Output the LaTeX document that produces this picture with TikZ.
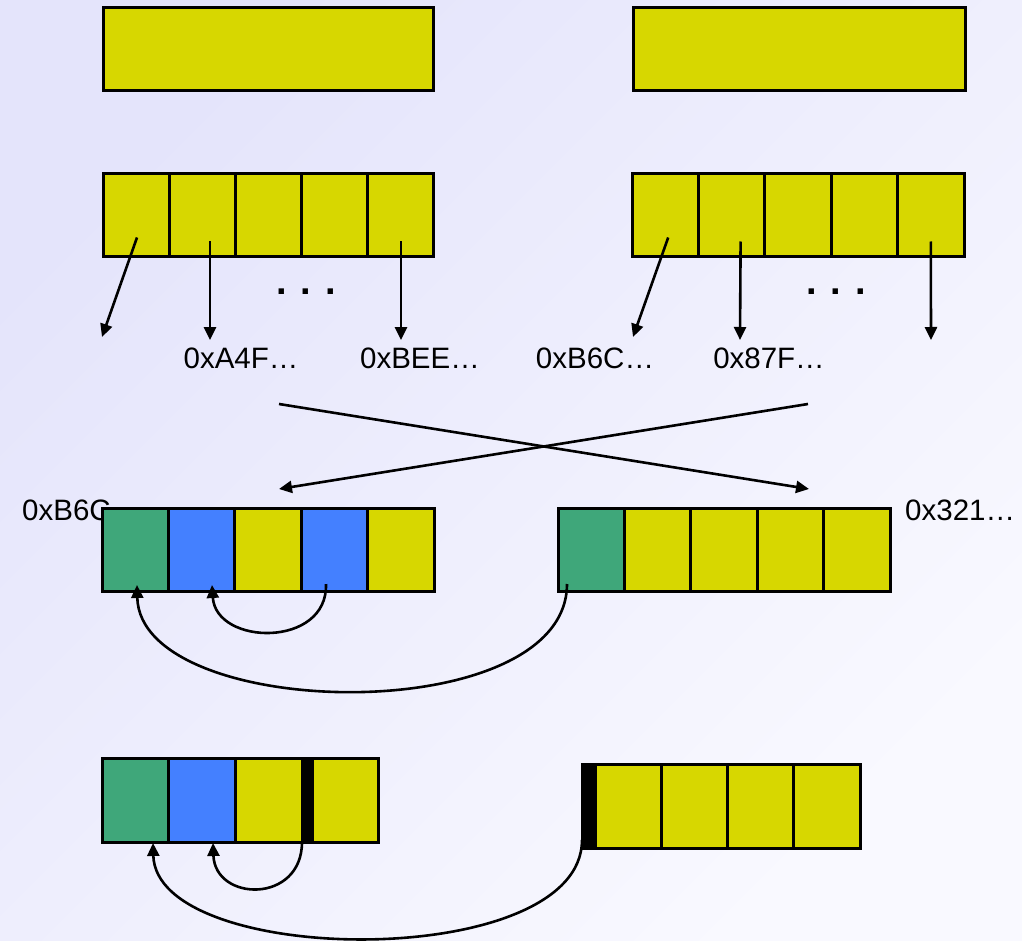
\documentclass[tikz,border=0pt]{standalone}
\usepackage{fontspec}
\setmainfont{Liberation Sans}
\usetikzlibrary{arrows.meta,calc}
\definecolor{ylw}{RGB}{215,215,0}
\definecolor{grn}{RGB}{63,167,122}
\definecolor{blu}{RGB}{68,128,255}
\definecolor{bgA}{RGB}{228,228,251}
\definecolor{bgB}{RGB}{249,249,255}
\tikzset{
  cell/.style={draw=black, line width=3pt, fill=ylw, minimum width=66pt,
    minimum height=83pt, inner sep=0pt, outer sep=0pt, anchor=north west},
  bar/.style={cell, fill=black, minimum width=10pt},
  arr/.style={line width=2.6pt, -{Triangle[length=13pt,width=12pt]}},
  lbl/.style={font=\fontsize{29.5}{33}\selectfont, inner sep=0pt},
  dots/.style={font=\fontsize{38}{42}\selectfont\bfseries, inner sep=0pt}
}
\begin{document}
\begin{tikzpicture}[x=1pt,y=-1pt]
\useasboundingbox (0,0) rectangle (1022,941);
\shade[top color=bgA, bottom color=bgB, shading angle=45]
  (0,0) rectangle (1022,941);

% top boxes
\node[cell, minimum width=330pt] (t1) at (103,8) {};
\node[cell, minimum width=332pt] (t2) at (633,8) {};

% row 2
\foreach \i/\n in {0/a,1/b,2/c,3/d,4/e}{
  \node[cell] (l2\n) at (103+66*\i,174) {};
  \node[cell, minimum width=66.4pt] (r2\n) at (632+66.4*\i,174) {};
}
\node[dots] (dl) at (306,292) {. . .};
\node[dots] (dr) at (836,292) {. . .};

\node[lbl] (a4f) at (241,358) {0xA4F…};
\node[lbl] (bee) at (420,358) {0xBEE…};
\node[lbl] (b6c) at (595,358) {0xB6C…};
\node[lbl] (f87) at (769,358) {0x87F…};

\coordinate (e1) at (102,337);
\coordinate (e2) at (210,340);
\coordinate (e3) at (401,340);
\coordinate (e4) at (633,337);
\coordinate (e5) at (740,340);
\coordinate (e6) at (931,340);
\draw[arr] ($(l2a.center)+(1,22)$) -- (e1);
\draw[arr] ($(l2b.center)+(8,26)$) -- (e2);
\draw[arr] ($(l2e.center)+(1,26)$) -- (e3);
\draw[arr] ($(r2a.center)+(3,22)$) -- (e4);
\draw[arr] ($(r2b.center)+(9,26)$) -- (e5);
\draw[arr] ($(r2e.center)+(0,26)$) -- (e6);

% crossing
\coordinate (x1) at (279,404);
\coordinate (x2) at (809,489);
\coordinate (x3) at (808,404);
\coordinate (x4) at (279,489);
\draw[arr] (x1) -- (x2);
\draw[arr] (x3) -- (x4);

% row 3
\node[lbl, anchor=west] (lb6c) at (22,510) {0xB6C};
\node[lbl, anchor=west] (l321) at (905,510) {0x321…};
\foreach \i/\n/\c in {0/a/grn,1/b/blu,2/c/ylw,3/d/blu,4/e/ylw}{
  \node[cell, fill=\c, minimum width=66.4pt] (l3\n) at (102+66.4*\i,508) {};
}
\foreach \i/\n/\c in {0/a/grn,1/b/ylw,2/c/ylw,3/d/ylw,4/e/ylw}{
  \node[cell, fill=\c, minimum width=66.4pt] (r3\n) at (558+66.4*\i,508) {};
}
\coordinate (s3a) at (326,584);
\coordinate (t3a) at (212,585);
\coordinate (s3b) at (567,584);
\coordinate (t3b) at (137,585);
\draw[arr] (s3a) .. controls (328,648) and (216,646) .. (t3a);
\draw[arr] (s3b) .. controls (567,730) and (140,722) .. (t3b);

% row 4
\node[cell, fill=grn, minimum height=84pt] (l4a) at (102,758) {};
\node[cell, fill=blu, minimum height=84pt, minimum width=67pt] (l4b) at (168,758) {};
\node[cell, fill=ylw, minimum height=84pt, minimum width=67pt] (l4c) at (235,758) {};
\node[bar, minimum height=84pt] (l4bar) at (302,758) {};
\node[cell, fill=ylw, minimum height=84pt] (l4d) at (312,758) {};

\node[bar, minimum height=84pt, minimum width=13pt] (r4bar) at (582,764) {};
\foreach \i/\n in {0/a,1/b,2/c,3/d}{
  \node[cell, minimum height=84pt, minimum width=66.25pt] (r4\n) at (595+66.25*\i,764) {};
}
\coordinate (s4a) at (302,842);
\coordinate (t4a) at (213,843);
\coordinate (s4b) at (582,840);
\coordinate (t4b) at (153,843);
\draw[arr] (s4a) .. controls (302,904) and (215,902) .. (t4a);
\draw[arr] (s4b) .. controls (582,972) and (156,968) .. (t4b);
\end{tikzpicture}
\end{document}
